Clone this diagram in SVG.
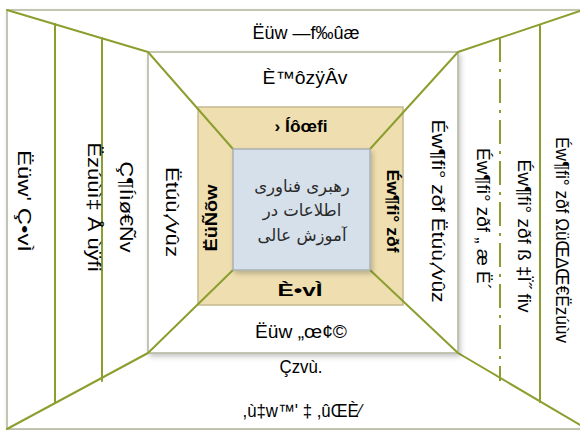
<svg xmlns="http://www.w3.org/2000/svg" width="580" height="430" viewBox="0 0 580 430">
<defs>
<filter id="sh" x="-10%" y="-10%" width="130%" height="130%">
<feDropShadow dx="2" dy="3" stdDeviation="2.5" flood-color="#000" flood-opacity="0.22"/>
</filter>
</defs>
<style>
.frame{fill:#fff;stroke:#b5b8a0;stroke-width:1.6}
.g{stroke:#8b9f2f;stroke-width:2;fill:none;stroke-linecap:round}
.dd{stroke:#8b9f2f;stroke-width:2;fill:none;stroke-dasharray:24 7 3 7}
.t{font-family:"Liberation Sans",Arial,sans-serif;font-size:18px;fill:#000;text-anchor:middle}
.v{dominant-baseline:central}
.b{font-weight:bold;font-size:17px}
.fa{font-family:"DejaVu Sans","Noto Sans",sans-serif;font-size:16.5px;fill:#2a2a2a;text-anchor:middle}
</style>
<rect width="580" height="430" fill="#fff"/>
<g id="outer">
<rect class="frame" x="7" y="10" width="600" height="419" filter="url(#sh)"/>
</g>
<g id="connectors">
<polyline class="g" points="7,10 148,52"/>
<polyline class="g" points="580,11 458,52"/>
<polyline class="g" points="7,429 148,353"/>
<polyline class="g" points="580,425 458,353"/>
<line class="g" x1="55" y1="24" x2="55" y2="403"/>
<line class="g" x1="102" y1="38" x2="102" y2="381"/>
<line class="g" x1="540" y1="25" x2="540" y2="402"/>
<line class="dd" x1="500" y1="38" x2="500" y2="381"/>
<line class="g" x1="95" y1="381" x2="500" y2="381" filter="url(#sh)"/>
</g>
<g id="middle">
<rect class="frame" x="148" y="52" width="310" height="301" filter="url(#sh)"/>
</g>
<g id="tan">
<rect x="198" y="107" width="205" height="198" fill="#efdeb0" stroke="#c4b98f" stroke-width="1.5"/>
</g>
<g id="diagonals">
<line class="g" x1="148" y1="52" x2="233" y2="149"/>
<line class="g" x1="458" y1="52" x2="370" y2="149"/>
<line class="g" x1="148" y1="353" x2="233" y2="270"/>
<line class="g" x1="458" y1="353" x2="370" y2="270"/>
</g>
<g id="core">
<rect x="233" y="149" width="137" height="121" fill="#d6e0ea" stroke="#aab0b4" stroke-width="1.5" filter="url(#sh)"/>
<text class="fa" x="302" y="192">رهبری فناوری</text>
<text class="fa" x="302" y="216">اطلاعات در</text>
<text class="fa" x="302" y="241">آموزش عالی</text>
</g>
<g id="labels-top-bottom">
<text class="t" x="306" y="39" textLength="107" lengthAdjust="spacingAndGlyphs">Ëüw —f‰ûæ</text>
<text class="t" x="305" y="84" textLength="85" lengthAdjust="spacingAndGlyphs">È™ôzÿÂv</text>
<text class="t b" x="301" y="132" textLength="53" lengthAdjust="spacingAndGlyphs">› Íôœfi</text>
<text class="t b" x="300" y="296" textLength="45" lengthAdjust="spacingAndGlyphs">È•vÌ</text>
<text class="t" x="301" y="338" textLength="92" lengthAdjust="spacingAndGlyphs">Ëüw „œ¢©</text>
<text class="t" x="301" y="373" textLength="43" lengthAdjust="spacingAndGlyphs">Çzvù.</text>
<text class="t" x="302" y="417" textLength="119" lengthAdjust="spacingAndGlyphs">,ù‡w™' ‡ ,ûŒÈ⁄</text>
</g>
<g id="labels-left">
<text class="t v" transform="translate(24,201) rotate(90)" textLength="102" lengthAdjust="spacingAndGlyphs">Ëüw' Ç•vÌ</text>
<text class="t v" transform="translate(94,207) rotate(90)" textLength="129" lengthAdjust="spacingAndGlyphs">Ëzúùì‡ Å ùÿfi</text>
<text class="t v" transform="translate(126,207) rotate(90)" textLength="91" lengthAdjust="spacingAndGlyphs">Ç¶Íìø€Ñv</text>
<text class="t v" transform="translate(172,212) rotate(90)" textLength="90" lengthAdjust="spacingAndGlyphs">Ëtúù,⁄vûz</text>
<text class="t v b" transform="translate(211,218) rotate(-90)" textLength="67" lengthAdjust="spacingAndGlyphs">ËüÑõw</text>
</g>
<g id="labels-right">
<text class="t v b" transform="translate(392,211) rotate(90)" textLength="83" lengthAdjust="spacingAndGlyphs">Éw¶fi° zðf</text>
<text class="t v" transform="translate(438,211) rotate(90)" textLength="183" lengthAdjust="spacingAndGlyphs">Éw¶fi° zðf Ëtúù,⁄vûz</text>
<text class="t v" transform="translate(483,219) rotate(90)" textLength="142" lengthAdjust="spacingAndGlyphs">Éw¶fi° zðf „ æ Ë´</text>
<text class="t v" transform="translate(524,236) rotate(90)" textLength="153" lengthAdjust="spacingAndGlyphs">Éw¶fi° zðf ß ‡Ï˝ fiv</text>
<text class="t v" transform="translate(562,240) rotate(90)" textLength="206" lengthAdjust="spacingAndGlyphs">Éw¶fi° zðf ΩüŒ∆Œ€Ëzúùv</text>
</g>
</svg>
